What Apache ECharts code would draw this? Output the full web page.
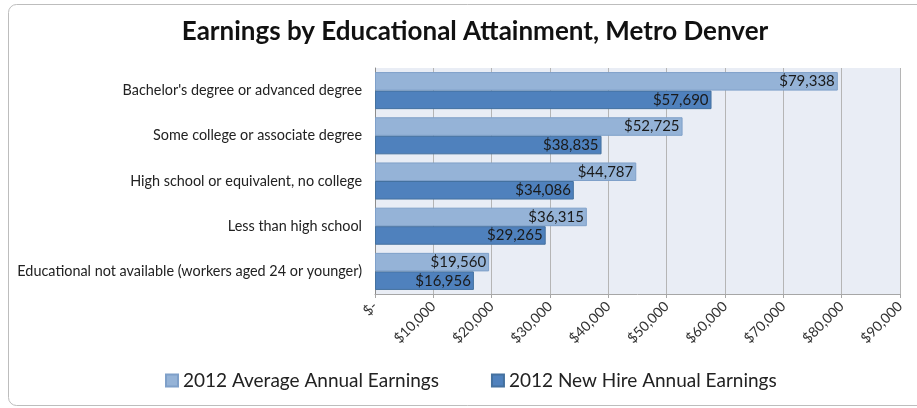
<!DOCTYPE html>
<html><head><meta charset="utf-8">
<script src="https://cdn.jsdelivr.net/npm/echarts@6/dist/echarts.min.js"></script>
<style>html,body{margin:0;padding:0;background:#fff}#c{width:917px;height:408px}</style>
</head><body><div id="c"></div>
<script>
const categories = [
  "Bachelor's degree or advanced degree",
  "Some college or associate degree",
  "High school or equivalent, no college",
  "Less than high school",
  "Educational not available (workers aged 24 or younger)"
];
const averageEarnings = [79338, 52725, 44787, 36315, 19560];
const newHireEarnings = [57690, 38835, 34086, 29265, 16956];
const seriesNames = ["2012 Average Annual Earnings", "2012 New Hire Annual Earnings"];

const fmt = v => v === 0 ? '$-' : '$' + v.toLocaleString('en-US');
const FONT = 'Lato, "Open Sans", sans-serif';

const chart = echarts.init(document.getElementById('c'));
chart.setOption({
  animation: false,
  backgroundColor: '#fff',
  textStyle: { fontFamily: FONT },
  graphic: [{
    type: 'rect', shape: { x: 8.5, y: 4.5, width: 930, height: 401, r: 8 },
    style: { fill: 'none', stroke: '#bdbdbd', lineWidth: 1 }, z: -1
  }],
  title: {
    text: 'Earnings by Educational Attainment, Metro Denver',
    left: 470, top: 14, textAlign: 'center',
    textStyle: { fontFamily: FONT, fontWeight: 'bold', fontSize: 26, color: '#111' }
  },
  legend: {
    data: seriesNames, bottom: 13, left: 160,
    itemWidth: 12, itemHeight: 12, itemGap: 52,
    textStyle: { fontFamily: FONT, fontSize: 19, color: '#222' },
    icon: 'rect'
  },
  grid: { left: 375, right: 17, top: 68, bottom: 114, backgroundColor: '#e9edf5', show: true, borderWidth: 0 },
  xAxis: {
    type: 'value', min: 0, max: 90000, interval: 10000,
    axisLine: { show: true, lineStyle: { color: '#a6a6a6' } },
    axisTick: { show: true, length: 4, lineStyle: { color: '#a6a6a6' } },
    splitLine: { show: true, lineStyle: { color: '#b5b5b5' } },
    axisLabel: { rotate: 45, formatter: fmt, fontFamily: FONT, fontSize: 14, color: '#333', margin: 10 }
  },
  yAxis: {
    type: 'category', data: categories, inverse: true,
    axisLine: { show: true, lineStyle: { color: '#8c8c8c' } },
    axisTick: { show: false },
    axisLabel: { fontFamily: FONT, fontSize: 14.4, color: '#222', margin: 13 }
  },
  series: [
    {
      name: seriesNames[0], type: 'bar', data: averageEarnings,
      barGap: '0%', barCategoryGap: '18%',
      itemStyle: { color: '#95b3d7', borderColor: '#7fa0c9', borderWidth: 1 },
      label: { show: true, position: 'insideRight', formatter: p => fmt(p.value), color: '#1a1a1a', fontSize: 15, fontFamily: FONT, distance: 3 }
    },
    {
      name: seriesNames[1], type: 'bar', data: newHireEarnings,
      itemStyle: { color: '#4f81bd', borderColor: '#44719f', borderWidth: 1 },
      label: { show: true, position: 'insideRight', formatter: p => fmt(p.value), color: '#1a1a1a', fontSize: 15, fontFamily: FONT, distance: 3 }
    }
  ]
});
</script></body></html>
